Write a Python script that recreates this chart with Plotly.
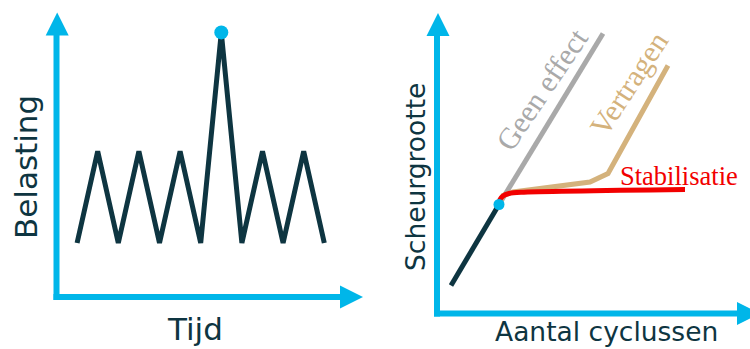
import plotly.graph_objects as go

# ---------------- data ----------------
# Left panel: load (Belasting) over time (Tijd)
tijd = [1, 2, 3, 4, 5, 6, 7, 8, 9, 10, 11, 12, 13]
belasting = [1.0, 2.7, 1.0, 2.7, 1.0, 2.7, 1.0, 4.9, 1.0, 2.7, 1.0, 2.7, 1.0]
piek_tijd = [8]
piek_belasting = [4.9]

# Right panel: crack size (Scheurgrootte) vs number of cycles (Aantal cyclussen)
basis_cycli = [0.7, 3.1]
basis_scheur = [1.4, 5.45]
geen_effect_cycli = [3.1, 8.3]
geen_effect_scheur = [5.45, 14.0]
vertragen_cycli = [3.1, 3.3, 3.8, 7.65, 8.55, 11.55]
vertragen_scheur = [5.45, 5.9, 6.08, 6.575, 7.0, 12.4]
stabilisatie_cycli = [3.1, 3.15, 3.3, 3.6, 4.2, 12.4]
stabilisatie_scheur = [5.45, 5.7, 5.88, 6.0, 6.06, 6.2]
overbelasting_cycli = [3.1]
overbelasting_scheur = [5.45]

labels_axes = {"x1": "Tijd", "y1": "Belasting", "x2": "Aantal cyclussen", "y2": "Scheurgrootte"}

# ---------------- styling ----------------
W, H = 750, 349
CYAN = "#00b6e9"
DARK = "#0e3541"
GRAY = "#a9a9a9"
TAN = "#d4b27c"
RED = "#f20000"
SANS = "DejaVu Sans"
SERIF = "Liberation Serif"

fig = go.Figure()

# pixel mapping helpers for ranges
# left: px = 56.5 + 20.6*t ; py = 297 - 54*L
kxL, x0L, kyL, y0L = 20.6, 56.5, 54.0, 297.0
# right: px = 437 + 20*c ; py = 313.5 - 20*a
kxR, x0R, kyR, y0R = 20.0, 437.0, 20.0, 313.5

# --- left axes (arrows) ---
fig.add_trace(go.Scatter(x=[-3 / kxL, (345 - x0L) / kxL], y=[0, 0], mode="lines",
                         line=dict(color=CYAN, width=6), xaxis="x", yaxis="y", hoverinfo="skip"))
fig.add_trace(go.Scatter(x=[0, 0], y=[-3 / kyL, (y0L - 30) / kyL], mode="lines",
                         line=dict(color=CYAN, width=6), xaxis="x", yaxis="y", hoverinfo="skip"))
fig.add_trace(go.Scatter(x=[(363 - x0L) / kxL], y=[0], mode="markers",
                         marker=dict(symbol="arrow-right", size=23, color=CYAN, line=dict(width=0)),
                         xaxis="x", yaxis="y", hoverinfo="skip"))
fig.add_trace(go.Scatter(x=[(57.2 - x0L) / kxL], y=[(y0L - 12.5) / kyL], mode="markers",
                         marker=dict(symbol="arrow-up", size=23, color=CYAN, line=dict(width=0)),
                         xaxis="x", yaxis="y", hoverinfo="skip"))

# --- left data ---
fig.add_trace(go.Scatter(x=tijd, y=belasting, mode="lines",
                         line=dict(color=DARK, width=5), xaxis="x", yaxis="y"))
fig.add_trace(go.Scatter(x=piek_tijd, y=piek_belasting, mode="markers",
                         marker=dict(color=CYAN, size=14, line=dict(width=0)), xaxis="x", yaxis="y"))

# --- right axes (arrows) ---
fig.add_trace(go.Scatter(x=[-3 / kxR, (745 - x0R) / kxR], y=[0, 0], mode="lines",
                         line=dict(color=CYAN, width=6), xaxis="x2", yaxis="y2", hoverinfo="skip"))
fig.add_trace(go.Scatter(x=[0, 0], y=[-3 / kyR, (y0R - 30) / kyR], mode="lines",
                         line=dict(color=CYAN, width=6), xaxis="x2", yaxis="y2", hoverinfo="skip"))
fig.add_trace(go.Scatter(x=[(760 - x0R) / kxR], y=[0], mode="markers",
                         marker=dict(symbol="arrow-right", size=23, color=CYAN, line=dict(width=0)),
                         xaxis="x2", yaxis="y2", hoverinfo="skip"))
fig.add_trace(go.Scatter(x=[(438 - x0R) / kxR], y=[(y0R - 13) / kyR], mode="markers",
                         marker=dict(symbol="arrow-up", size=23, color=CYAN, line=dict(width=0)),
                         xaxis="x2", yaxis="y2", hoverinfo="skip"))

# --- right data ---
fig.add_trace(go.Scatter(x=basis_cycli, y=basis_scheur, mode="lines",
                         line=dict(color=DARK, width=5), xaxis="x2", yaxis="y2"))
fig.add_trace(go.Scatter(x=geen_effect_cycli, y=geen_effect_scheur, mode="lines",
                         line=dict(color=GRAY, width=5), xaxis="x2", yaxis="y2"))
fig.add_trace(go.Scatter(x=vertragen_cycli, y=vertragen_scheur, mode="lines",
                         line=dict(color=TAN, width=5), xaxis="x2", yaxis="y2"))
fig.add_trace(go.Scatter(x=stabilisatie_cycli, y=stabilisatie_scheur, mode="lines",
                         line=dict(color=RED, width=5, shape="spline", smoothing=0.8), xaxis="x2", yaxis="y2"))
fig.add_trace(go.Scatter(x=overbelasting_cycli, y=overbelasting_scheur, mode="markers",
                         marker=dict(color=CYAN, size=11, line=dict(width=0)), xaxis="x2", yaxis="y2"))


def px2paper(px, py):
    return px / W, 1 - py / H


annots = []
def add_text(text, px, py, size, color, family, angle=0):
    xp, yp = px2paper(px, py)
    annots.append(dict(text=text, x=xp, y=yp, xref="paper", yref="paper", showarrow=False,
                       xanchor="center", yanchor="middle", textangle=angle,
                       font=dict(size=size, color=color, family=family)))

add_text(labels_axes["y1"], 26, 167, 31, DARK, SANS, -90)
add_text(labels_axes["x1"], 195, 329, 31, DARK, SANS)
add_text(labels_axes["y2"], 415, 177, 26.5, DARK, SANS, -90)
add_text(labels_axes["x2"], 606.5, 331, 26.5, DARK, SANS)
add_text("Geen effect", 542, 90, 30, GRAY, SERIF, -56)
add_text("Vertragen", 629, 84, 30, TAN, SERIF, -57)
add_text("Stabilisatie", 678.5, 176, 26.5, RED, SERIF)

hidden = dict(visible=False, showgrid=False, zeroline=False, fixedrange=True)
fig.update_layout(
    width=W, height=H, margin=dict(l=0, r=0, t=0, b=0),
    paper_bgcolor="white", plot_bgcolor="white", showlegend=False,
    xaxis=dict(domain=[0, 0.5], range=[(0 - x0L) / kxL, (375 - x0L) / kxL], **hidden),
    yaxis=dict(domain=[0, 1], range=[(y0L - H) / kyL, y0L / kyL], **hidden),
    xaxis2=dict(domain=[0.5, 1], range=[(375 - x0R) / kxR, (750 - x0R) / kxR], anchor="y2", **hidden),
    yaxis2=dict(domain=[0, 1], range=[(y0R - H) / kyR, y0R / kyR], anchor="x2", **hidden),
    annotations=annots,
)

fig.write_html("out.html", config={"displayModeBar": False},
               post_script="document.body.style.margin='0';document.body.style.overflow='hidden';")
